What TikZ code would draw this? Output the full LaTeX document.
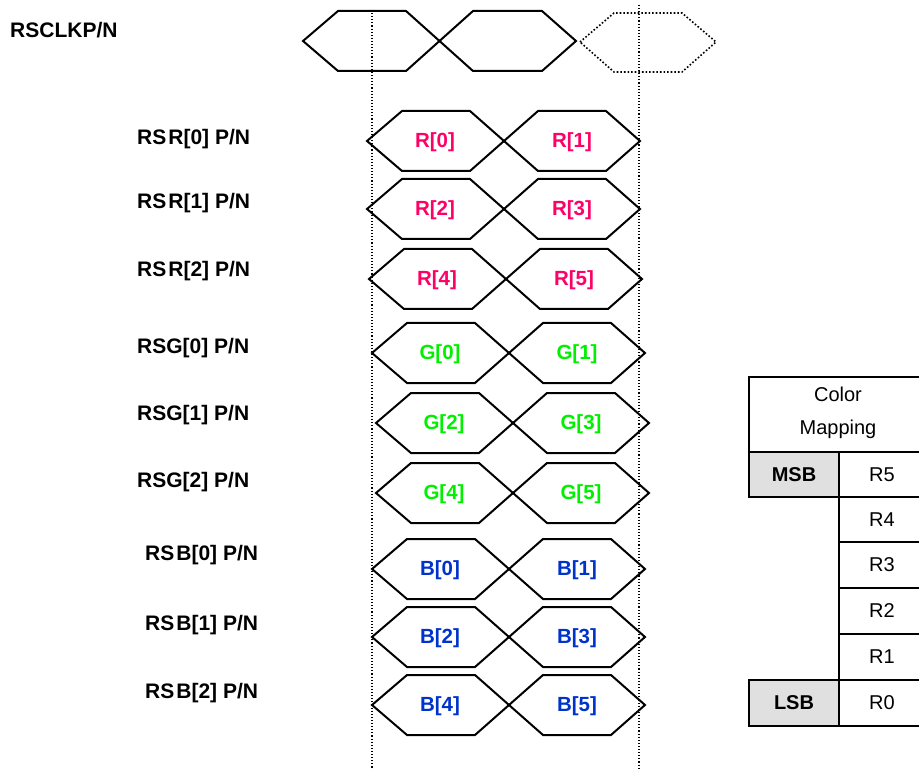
\documentclass[tikz,border=0pt]{standalone}
\usepackage{fontspec}
\setmainfont{Liberation Sans}
\definecolor{rcol}{RGB}{255,0,102}
\definecolor{gcol}{RGB}{0,240,0}
\definecolor{bcol}{RGB}{0,51,204}
\definecolor{cellgray}{RGB}{224,224,224}
\tikzset{
  sig/.style={draw=black, line width=2pt, line join=miter},
  ghost/.style={draw=black, line width=1.6pt, dotted},
  guide/.style={draw=black, line width=1.1pt, dotted},
  lbl/.style={font=\bfseries\fontsize{21}{24}\selectfont, anchor=west, inner sep=0pt},
  dat/.style={font=\bfseries\fontsize{20.5}{24}\selectfont, inner sep=0pt},
  cellbox/.style={draw=black, line width=1.6pt},
  celltxt/.style={font=\fontsize{20}{22}\selectfont, inner sep=0pt},
  cellbold/.style={font=\bfseries\fontsize{20}{22}\selectfont, inner sep=0pt},
}
\newcommand\hexpair[6]{%
  \begin{scope}[shift={(#1,#2)}]
    \draw[sig] (0,0) -- (35,-30) -- (103,-30) -- (171,30) -- (239,30) -- (273,0)
      -- (239,-30) -- (171,-30) -- (103,30) -- (35,30) -- cycle;
    \node[dat,text=#5] (#6a) at (68,1) {#3};
    \node[dat,text=#5] (#6b) at (205,1) {#4};
  \end{scope}}
\begin{document}
\begin{tikzpicture}[x=1pt,y=-1pt]
\useasboundingbox (0,0) rectangle (919,770);
% guide lines
\coordinate (g1t) at (372,10);
\coordinate (g1b) at (372,770);
\coordinate (g2t) at (639,5);
\coordinate (g2b) at (639,770);
\draw[guide] (g1t) -- (g1b);
\draw[guide] (g2t) -- (g2b);
% clock
\begin{scope}[shift={(303,41)}]
  \draw[sig] (0,0) -- (35,-30) -- (103,-30) -- (170,30) -- (239,30) -- (273,0)
    -- (239,-30) -- (170,-30) -- (103,30) -- (35,30) -- cycle;
\end{scope}
\begin{scope}[shift={(580,42)}]
  \draw[ghost] (0,0) -- (34,-29) -- (102,-29) -- (136,0) -- (102,30) -- (34,30) -- cycle;
\end{scope}
% data rows
\hexpair{367}{141}{R[0]}{R[1]}{rcol}{r0}
\hexpair{367}{209}{R[2]}{R[3]}{rcol}{r1}
\hexpair{369}{279}{R[4]}{R[5]}{rcol}{r2}
\hexpair{372}{353}{G[0]}{G[1]}{gcol}{g0}
\hexpair{376}{423}{G[2]}{G[3]}{gcol}{g1}
\hexpair{376}{493}{G[4]}{G[5]}{gcol}{g2}
\hexpair{372}{569}{B[0]}{B[1]}{bcol}{b0}
\hexpair{372}{637}{B[2]}{B[3]}{bcol}{b1}
\hexpair{372}{705}{B[4]}{B[5]}{bcol}{b2}
% labels
\node[lbl] (lclk) at (10,30) {RSCLKP/N};
\node[lbl] (lr0) at (137,139) {RS\kern2pt R[0] P/N};
\node[lbl] (lr1) at (137,203) {RS\kern2pt R[1] P/N};
\node[lbl] (lr2) at (137,271) {RS\kern2pt R[2] P/N};
\node[lbl] (lg0) at (137,348) {RSG[0] P/N};
\node[lbl] (lg1) at (137,415) {RSG[1] P/N};
\node[lbl] (lg2) at (137,482) {RSG[2] P/N};
\node[lbl] (lb0) at (145,555) {RS\kern2pt B[0] P/N};
\node[lbl] (lb1) at (145,625) {RS\kern2pt B[1] P/N};
\node[lbl] (lb2) at (145,693) {RS\kern2pt B[2] P/N};
% table
\draw[cellbox] (749,377) rectangle (925,452);
\node[celltxt, align=center, font=\fontsize{20}{33}\selectfont] (hdr) at (838,413) {Color\\Mapping};
\draw[cellbox, fill=cellgray] (749,452) rectangle (839,497);
\node[cellbold] (msb) at (794,475) {MSB};
\draw[cellbox, fill=cellgray] (749,680) rectangle (839,726);
\node[cellbold] (lsb) at (794,703) {LSB};
\draw[cellbox] (839,452) rectangle (925,497);
\draw[cellbox] (839,497) rectangle (925,542);
\draw[cellbox] (839,542) rectangle (925,588);
\draw[cellbox] (839,588) rectangle (925,634);
\draw[cellbox] (839,634) rectangle (925,680);
\draw[cellbox] (839,680) rectangle (925,726);
\node[celltxt] (c5) at (882,475) {R5};
\node[celltxt] (c4) at (882,520) {R4};
\node[celltxt] (c3) at (882,565) {R3};
\node[celltxt] (c2) at (882,611) {R2};
\node[celltxt] (c1) at (882,657) {R1};
\node[celltxt] (c0) at (882,703) {R0};
\end{tikzpicture}
\end{document}
